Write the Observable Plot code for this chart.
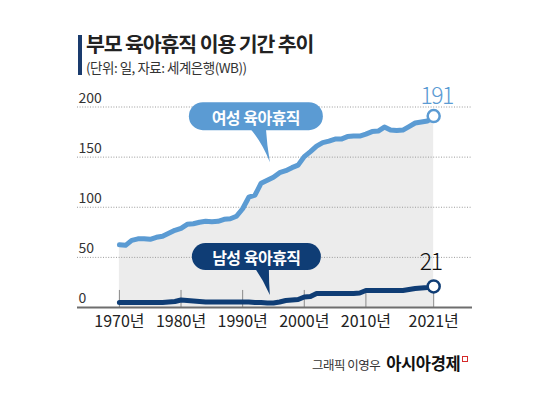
<!DOCTYPE html>
<html>
<head>
<meta charset="utf-8">
<script src="https://cdn.jsdelivr.net/npm/d3@7"></script>
<script src="https://cdn.jsdelivr.net/npm/@observablehq/plot@0.6"></script>
<style>
  html, body { margin: 0; padding: 0; background: #fff; }
  body { width: 550px; height: 399px; position: relative; overflow: hidden;
         font-family: "Noto Sans CJK KR", "Noto Sans", sans-serif; }
  #bar { position: absolute; left: 78px; top: 35px; width: 4px; height: 40px; background: #1a3b6d; }
  #title { position: absolute; left: 86px; top: 31px; font-size: 20.5px; font-weight: 700; color: #222;
           letter-spacing: -1.1px; line-height: 24px; white-space: nowrap; }
  #sub { position: absolute; left: 86px; top: 59px; font-size: 13.5px; color: #333;
         letter-spacing: -0.5px; line-height: 17px; white-space: nowrap; }
  #chart { position: absolute; left: 0; top: 80px; }
  #credit { position: absolute; left: 312px; top: 353px; white-space: nowrap; line-height: 20px; }
  #credit .a { font-size: 12.5px; color: #333; letter-spacing: -0.5px; }
  #credit .b { font-size: 16.5px; font-weight: 700; color: #111; letter-spacing: -0.4px; margin-left: 6px; }
  #credit .c { display: inline-block; width: 4px; height: 4px; border: 1.5px solid #d62a2a;
               vertical-align: top; margin-top: 3px; margin-left: 2px; }
  g[font-family="Noto Sans CJK KR, sans-serif"] text { letter-spacing: -1.5px; }
</style>
</head>
<body>
<div id="bar"></div>
<div id="title">부모 육아휴직 이용 기간 추이</div>
<div id="sub">(단위: 일, 자료: 세계은행(WB))</div>
<div id="chart"></div>
<div id="credit"><span class="a">그래픽 이영우</span><span class="b">아시아경제</span><span class="c"></span></div>
<script>
// ---- data ----
const years = [1970,1971,1972,1973,1974,1975,1976,1977,1978,1979,
               1980,1981,1982,1983,1984,1985,1986,1987,1988,1989,
               1990,1991,1992,1993,1994,1995,1996,1997,1998,1999,
               2000,2001,2002,2003,2004,2005,2006,2007,2008,2009,
               2010,2011,2012,2013,2014,2015,2016,2017,2018,2019,
               2020,2021];
const female = [62.5,62,67,68.5,68.5,68,70,71,74,77,
                79,83,83.5,85,86,85.5,86,88,88.5,91,
                98.5,110,112,124,127,130,134.5,136.5,139.5,142,
                150.5,155.5,161,164.5,166,168,168,170.5,171,171,
                173,175.5,176,180,177,176.5,177,180.5,184,185,
                186,191];
const male = [5,5,5,5,5,5,5,5,5.5,6,
              7.5,7,6.5,6,5.5,5.5,5.5,5.5,5.5,5.5,
              5.5,5.5,5,5,4.5,4.5,5.5,7,7.5,8,
              10.5,11,14,14,14,14,14,14,14,14.5,
              17,17,17,17,17,17,17,18,19,19.5,
              20,21];
const yTicks = [0, 50, 100, 150, 200];
const xTicks = [1970, 1980, 1990, 2000, 2010, 2021];
const xTickLabels = ["1970년", "1980년", "1990년", "2000년", "2010년", "2021년"];
const seriesNames = ["여성 육아휴직", "남성 육아휴직"];
// annotation anchor (tip of callout) in data units
const calloutYears = [1994.5, 1994.5];
const calloutValues = [144.5, 12];

const femaleColor = "#5b9bd3";
const maleColor = "#0f3d75";

const data = years.map((year, i) => ({year, female: female[i], male: male[i]}));
const last = data[data.length - 1];

function callout(label, year, value, fill, box, tail) {
  return (index, {x, y}) => {
    const tx = x(year), ty = y(value);
    const g = d3.create("svg:g");
    g.append("path")
      .attr("d", `M${tx + tail[0]},${ty + tail[1]} Q${tx + tail[2]},${ty + tail[3]} ${tx},${ty} Q${tx + tail[4]},${ty + tail[5]} ${tx + tail[6]},${ty + tail[7]} Z`)
      .attr("fill", fill);
    g.append("rect")
      .attr("x", tx + box[0] - box[2] / 2).attr("y", ty + box[1] - box[3] / 2)
      .attr("width", box[2]).attr("height", box[3]).attr("rx", box[3] / 2)
      .attr("fill", fill);
    g.append("text")
      .attr("x", tx + box[0]).attr("y", ty + box[1] + 1)
      .attr("text-anchor", "middle").attr("dominant-baseline", "central")
      .attr("fill", "white").attr("font-weight", 700).attr("font-size", 16)
      .attr("letter-spacing", "-0.5px")
      .attr("font-family", "Noto Sans CJK KR, Noto Sans, sans-serif")
      .text(label);
    return g.node();
  };
}

const chart = Plot.plot({
  width: 550,
  height: 265,
  marginLeft: 77,
  marginRight: 78,
  marginTop: 26.5,
  marginBottom: 38,
  x: {domain: [1963.2, 2027.3], axis: null},
  y: {domain: [0, 200], axis: null},
  style: {fontFamily: "Noto Sans CJK KR, Noto Sans, sans-serif", background: "transparent", overflow: "visible"},
  marks: [
    Plot.areaY(data, {x: "year", y: "female", fill: "#ececec"}),
    Plot.ruleY(yTicks.filter(d => d > 0), {stroke: "#9a9a9a", strokeWidth: 1, strokeDasharray: "1,1.6"}),
    Plot.ruleX(xTicks, {y1: 0, y2: 17, stroke: "#8a8a8a", strokeWidth: 1}),
    Plot.ruleY([0], {stroke: "#6e6e6e", strokeWidth: 2}),
    Plot.text(yTicks, {x: 1963.2, y: d => d, text: d => String(d), textAnchor: "start",
                       lineAnchor: "bottom", dx: 1, dy: -4.5, fontSize: 14, fill: "#333"}),
    Plot.text(xTicks, {x: d => d, y: 0, text: (d, i) => xTickLabels[i], lineAnchor: "top",
                       dy: 8, fontSize: 16, fill: "#222"}),
    Plot.line(data, {x: "year", y: "female", stroke: femaleColor, strokeWidth: 5, strokeLinejoin: "round"}),
    Plot.line(data, {x: "year", y: "male", stroke: maleColor, strokeWidth: 5, strokeLinejoin: "round"}),
    Plot.dot([last], {x: "year", y: "female", r: 6, fill: "white", stroke: femaleColor, strokeWidth: 2.5}),
    Plot.dot([last], {x: "year", y: "male", r: 6, fill: "white", stroke: maleColor, strokeWidth: 2.5}),
    Plot.text([last], {x: "year", y: "female", text: d => String(d.female), lineAnchor: "bottom",
                       dx: 3, dy: -12, fontSize: 23, fill: femaleColor, fontWeight: 300,
                       fontFamily: "Noto Sans CJK KR, sans-serif"}),
    Plot.text([last], {x: "year", y: "male", text: d => String(d.male), lineAnchor: "bottom",
                       dx: -3, dy: -16, fontSize: 23, fill: "#111", fontWeight: 300,
                       fontFamily: "Noto Sans CJK KR, sans-serif"}),
    callout(seriesNames[0], calloutYears[0], calloutValues[0], femaleColor,
            [-14, -46, 134, 28], [-20, -34, -8, -20, -3, -18, -4, -34]),
    callout(seriesNames[1], calloutYears[1], calloutValues[1], maleColor,
            [-13.5, -38.5, 129, 27], [-15, -27, -6, -14, -1, -12, -1, -27])
  ]
});
document.getElementById("chart").appendChild(chart);
</script>
</body>
</html>
